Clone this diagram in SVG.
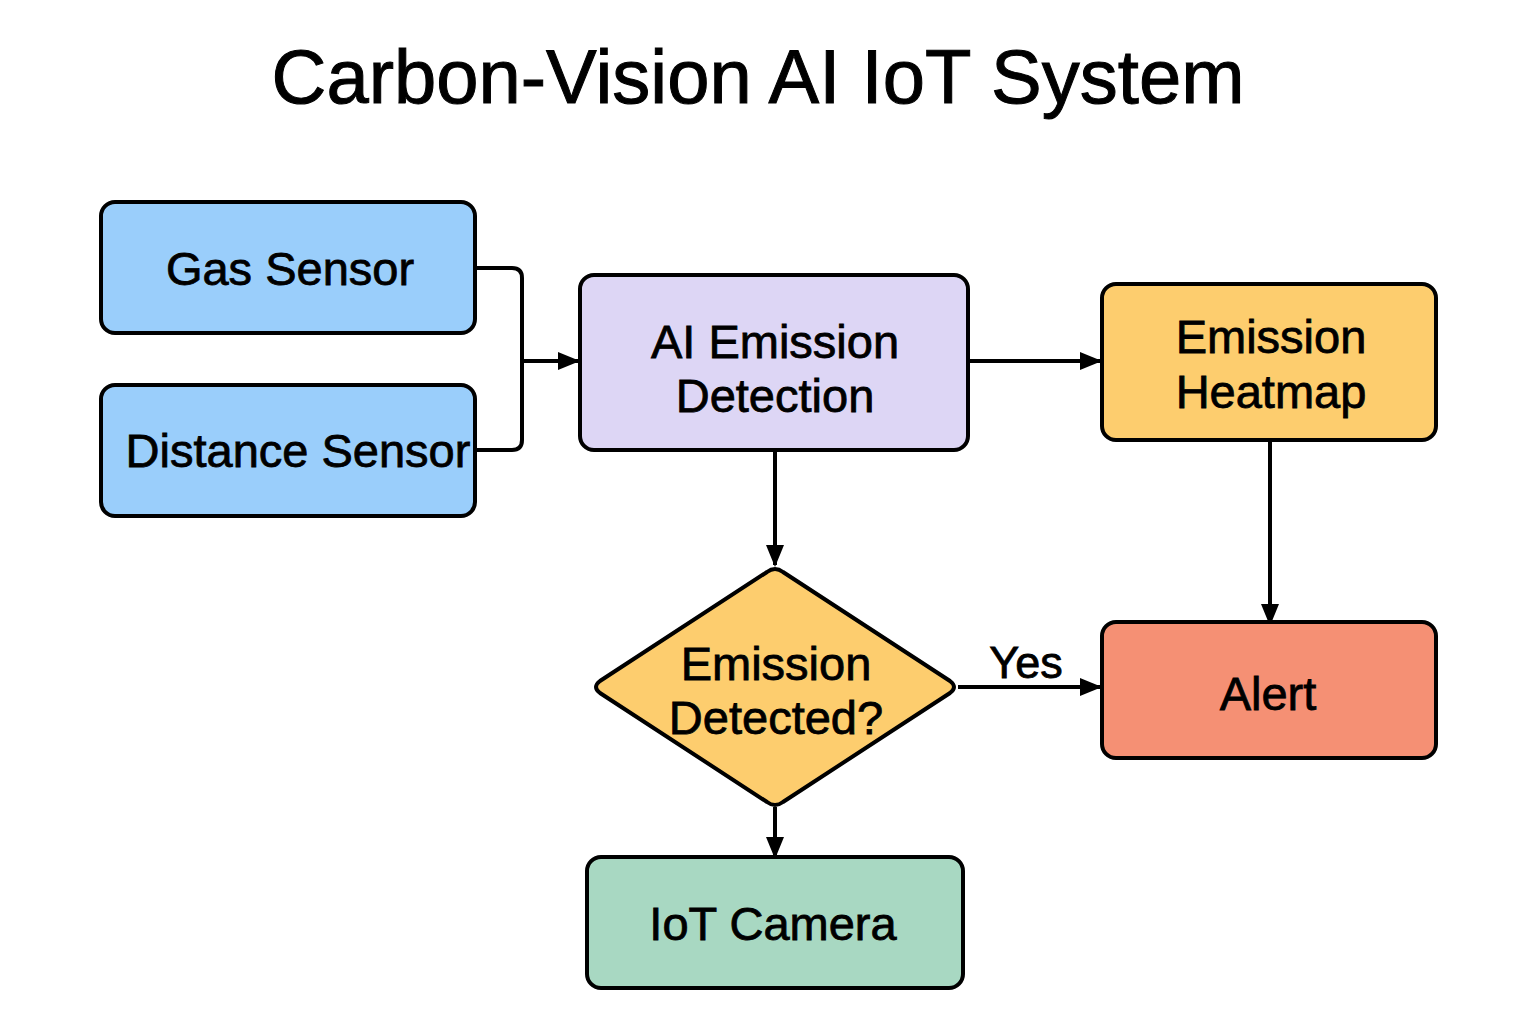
<svg xmlns="http://www.w3.org/2000/svg" width="1536" height="1024" viewBox="0 0 1536 1024">
<style>
.box{stroke:#000;stroke-width:4}
.t{font-family:"Liberation Sans",Arial,sans-serif;font-size:47px;fill:#000;stroke:#000;stroke-width:0.8;text-anchor:middle}
.c{fill:none;stroke:#000;stroke-width:4}
</style>
<defs>
<marker id="ah" markerWidth="22" markerHeight="18" refX="20" refY="9" orient="auto" markerUnits="userSpaceOnUse">
<path d="M0,0 L22,9 L0,18 Z" fill="#000"/>
</marker>
</defs>
<rect width="1536" height="1024" fill="#fff"/>
<text x="758" y="103" font-family="'Liberation Sans',Arial,sans-serif" font-size="76" stroke="#000" stroke-width="1" text-anchor="middle">Carbon-Vision AI IoT System</text>
<g id="connectors">
<path class="c" d="M475,268 H512 Q522,268 522,278 V440 Q522,450 512,450 H475"/>
<path class="c" d="M522,361 H578" marker-end="url(#ah)"/>
<path class="c" d="M968,361 H1100" marker-end="url(#ah)"/>
<path class="c" d="M775,450 V565" marker-end="url(#ah)"/>
<path class="c" d="M1270,440 V624" marker-end="url(#ah)"/>
<path class="c" d="M958,687 H1100" marker-end="url(#ah)"/>
<path class="c" d="M775,807 V857" marker-end="url(#ah)"/>
<text class="t" x="1026" y="678" style="font-size:45px">Yes</text>
</g>
<g id="gas">
<rect class="box" x="101" y="202" width="374" height="131" rx="14" fill="#9ACEFB"/>
<text class="t" x="290" y="285">Gas Sensor</text>
</g>
<g id="distance">
<rect class="box" x="101" y="385" width="374" height="131" rx="14" fill="#9ACEFB"/>
<text class="t" x="298" y="467">Distance Sensor</text>
</g>
<g id="ai">
<rect class="box" x="580" y="275" width="388" height="175" rx="14" fill="#DDD6F5"/>
<text class="t" x="775" y="358">AI Emission</text>
<text class="t" x="775" y="412">Detection</text>
</g>
<g id="heatmap">
<rect class="box" x="1102" y="284" width="334" height="156" rx="14" fill="#FDCD6E"/>
<text class="t" x="1271" y="353">Emission</text>
<text class="t" x="1271" y="408">Heatmap</text>
</g>
<g id="decision">
<path class="box" d="M767,572 Q775,566 783,572 L950,681 Q958,687 950,693 L783,802 Q775,808 767,802 L600,693 Q592,687 600,681 Z" fill="#FDCD6E"/>
<text class="t" x="776" y="680">Emission</text>
<text class="t" x="776" y="734">Detected?</text>
</g>
<g id="alert">
<rect class="box" x="1102" y="622" width="334" height="136" rx="14" fill="#F59074"/>
<text class="t" x="1268" y="710">Alert</text>
</g>
<g id="camera">
<rect class="box" x="587" y="857" width="376" height="131" rx="14" fill="#A8D8C2"/>
<text class="t" x="773" y="940">IoT Camera</text>
</g>
</svg>
